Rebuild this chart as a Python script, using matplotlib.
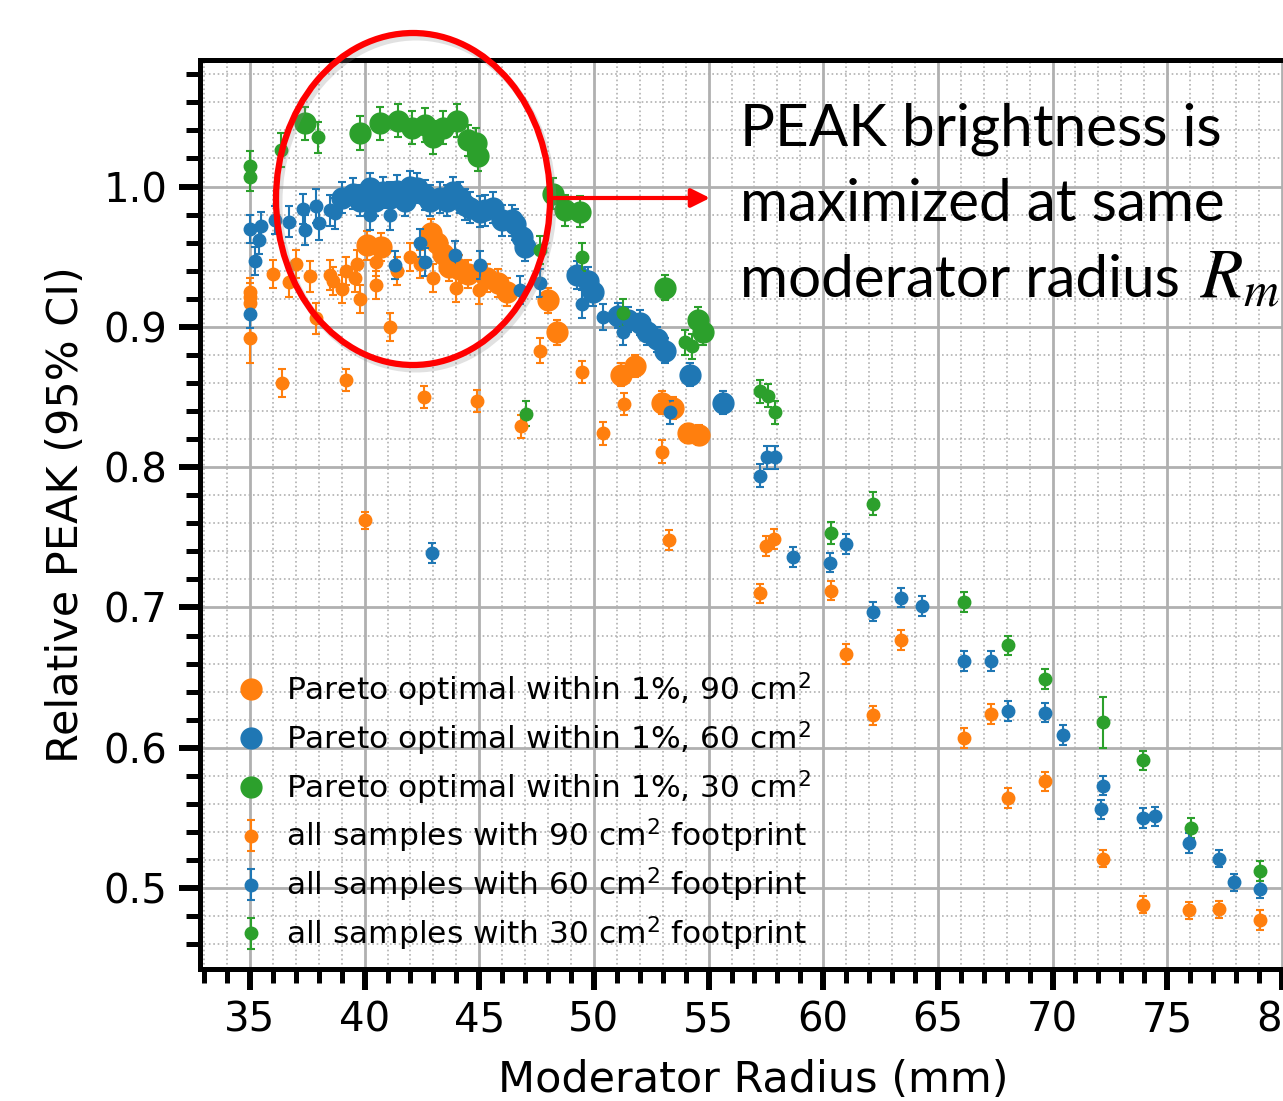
import numpy as np
import matplotlib.pyplot as plt
from matplotlib.patches import Ellipse
from matplotlib.ticker import MultipleLocator

# all samples, 90 cm^2 footprint
x90 = [35.0, 35.0, 35.0, 35.0, 36.0, 36.4, 36.7, 37.0, 37.6, 37.9, 38.5, 38.6, 39.0, 39.2,
       39.2, 39.6, 39.65, 39.8, 40.0, 40.1, 40.5, 40.5, 40.7, 41.1, 41.4, 42.0, 42.4, 42.6,
       42.9, 43.0, 43.15, 43.4, 43.7, 44.0, 44.1, 44.5, 44.9, 45.0, 45.35, 45.8, 46.2, 46.8,
       47.65, 48.0, 48.4, 49.5, 50.4, 51.2, 51.3, 51.8, 52.97, 52.97, 53.27, 53.45, 54.1,
       54.6, 57.24, 57.5, 57.86, 60.34, 61.0, 62.17, 63.4, 66.14, 67.3, 68.06, 69.67, 72.2,
       73.94, 75.95, 77.26, 79.05]
y90 = [0.925, 0.921, 0.917, 0.892, 0.938, 0.860, 0.932, 0.945, 0.936, 0.906, 0.937, 0.933,
       0.927, 0.940, 0.862, 0.935, 0.945, 0.920, 0.762, 0.958, 0.930, 0.946, 0.957, 0.900,
       0.940, 0.950, 0.945, 0.850, 0.967, 0.935, 0.960, 0.952, 0.943, 0.928, 0.941, 0.938,
       0.847, 0.926, 0.935, 0.931, 0.925, 0.829, 0.883, 0.919, 0.896, 0.868, 0.824, 0.866,
       0.845, 0.872, 0.846, 0.811, 0.748, 0.842, 0.824, 0.823, 0.710, 0.744, 0.749, 0.712,
       0.667, 0.623, 0.677, 0.607, 0.624, 0.564, 0.576, 0.521, 0.488, 0.484, 0.485, 0.477]
e90 = [0.010, 0.010, 0.010, 0.018, 0.010, 0.010, 0.011, 0.010, 0.011, 0.011, 0.011, 0.010,
       0.010, 0.010, 0.008, 0.010, 0.010, 0.010, 0.006, 0.010, 0.010, 0.010, 0.010, 0.010,
       0.010, 0.010, 0.010, 0.008, 0.010, 0.010, 0.010, 0.010, 0.010, 0.010, 0.010, 0.010,
       0.008, 0.010, 0.010, 0.010, 0.010, 0.008, 0.009, 0.009, 0.009, 0.008, 0.008, 0.008,
       0.008, 0.008, 0.008, 0.008, 0.007, 0.008, 0.007, 0.007, 0.007, 0.007, 0.007, 0.007,
       0.007, 0.007, 0.007, 0.007, 0.007, 0.007, 0.007, 0.006, 0.006, 0.006, 0.006, 0.007]

# all samples, 60 cm^2 footprint
x60 = [35.0, 35.0, 35.2, 35.4, 35.5, 36.1, 36.7, 37.3, 37.4, 37.9, 38.0, 38.5, 38.7, 39.01,
       39.49, 39.8, 40.23, 40.23, 40.45, 40.8, 41.1, 41.1, 41.32, 41.41, 41.76, 41.98, 42.28,
       42.4, 42.63, 42.63, 42.85, 42.94, 43.29, 43.6, 43.85, 43.94, 44.16, 44.38, 44.59, 45.03,
       45.03, 45.25, 45.6, 45.99, 46.43, 46.56, 46.78, 46.86, 46.99, 47.65, 49.26, 49.48, 49.74,
       49.96, 50.4, 51.05, 51.27, 51.48, 52.0, 52.31, 52.75, 53.1, 53.3, 54.19, 55.63, 57.24,
       57.55, 57.9, 58.7, 60.3, 61.0, 62.17, 63.4, 64.3, 66.14, 67.3, 68.06, 69.67, 70.45,
       72.2, 72.1, 73.94, 74.47, 75.95, 77.26, 77.91, 79.05]
y60 = [0.970, 0.909, 0.947, 0.962, 0.972, 0.976, 0.975, 0.984, 0.969, 0.986, 0.974, 0.983,
       0.981, 0.992, 0.995, 0.990, 0.999, 0.980, 0.990, 0.996, 0.992, 0.980, 0.944, 0.997,
       0.990, 1.000, 0.999, 0.960, 0.994, 0.946, 0.990, 0.739, 0.992, 0.990, 0.996, 0.951,
       0.992, 0.987, 0.985, 0.982, 0.944, 0.983, 0.985, 0.976, 0.976, 0.973, 0.926, 0.964,
       0.957, 0.931, 0.937, 0.916, 0.933, 0.925, 0.907, 0.908, 0.896, 0.905, 0.903, 0.896,
       0.891, 0.883, 0.839, 0.866, 0.846, 0.794, 0.807, 0.807, 0.736, 0.732, 0.745, 0.697,
       0.707, 0.701, 0.662, 0.662, 0.626, 0.625, 0.609, 0.573, 0.556, 0.550, 0.551, 0.532,
       0.521, 0.504, 0.499]
e60 = [0.010, 0.010, 0.010, 0.010, 0.010, 0.010, 0.011, 0.011, 0.011, 0.012, 0.012, 0.011,
       0.011, 0.011, 0.011, 0.011, 0.011, 0.011, 0.011, 0.011, 0.011, 0.011, 0.010, 0.011,
       0.011, 0.011, 0.011, 0.010, 0.011, 0.010, 0.011, 0.007, 0.011, 0.011, 0.011, 0.010,
       0.011, 0.011, 0.011, 0.011, 0.010, 0.011, 0.011, 0.011, 0.011, 0.011, 0.010, 0.010,
       0.010, 0.010, 0.010, 0.010, 0.010, 0.010, 0.009, 0.009, 0.009, 0.009, 0.009, 0.009,
       0.009, 0.009, 0.008, 0.008, 0.008, 0.008, 0.008, 0.008, 0.007, 0.007, 0.007, 0.007,
       0.007, 0.007, 0.007, 0.007, 0.007, 0.007, 0.007, 0.007, 0.007, 0.007, 0.007, 0.007,
       0.006, 0.006, 0.006]

# all samples, 30 cm^2 footprint
x30 = [35.0, 35.0, 36.35, 37.4, 37.97, 39.8, 40.67, 41.45, 42.07, 42.63, 42.98, 43.42, 44.03,
       44.5, 44.86, 44.95, 47.04, 47.65, 48.2, 48.75, 49.4, 49.5, 51.27, 53.1, 53.97, 54.28,
       54.54, 54.76, 57.24, 57.6, 57.9, 60.34, 62.17, 66.14, 68.06, 69.67, 72.2, 73.94, 76.04,
       79.05]
y30 = [1.015, 1.007, 1.026, 1.045, 1.035, 1.038, 1.045, 1.047, 1.042, 1.044, 1.035, 1.042,
       1.047, 1.033, 1.031, 1.022, 0.838, 0.955, 0.995, 0.983, 0.982, 0.950, 0.910, 0.928,
       0.889, 0.886, 0.905, 0.896, 0.854, 0.851, 0.839, 0.753, 0.774, 0.704, 0.673, 0.649,
       0.618, 0.591, 0.543, 0.512]
e30 = [0.010, 0.010, 0.012, 0.012, 0.011, 0.012, 0.012, 0.012, 0.012, 0.012, 0.012, 0.012,
       0.012, 0.011, 0.011, 0.011, 0.009, 0.010, 0.011, 0.011, 0.011, 0.010, 0.010, 0.009,
       0.009, 0.009, 0.009, 0.009, 0.008, 0.008, 0.008, 0.008, 0.008, 0.007, 0.007, 0.007,
       0.018, 0.007, 0.007, 0.007]

# Pareto optimal within 1%
px90 = [40.1, 40.7, 42.9, 43.15, 43.4, 43.7, 44.1, 44.5, 45.35, 45.8, 46.2, 48.0, 48.4,
        51.2, 51.8, 52.97, 53.45, 54.1, 54.6]
py90 = [0.958, 0.957, 0.967, 0.960, 0.952, 0.943, 0.941, 0.938, 0.935, 0.931, 0.925, 0.919,
        0.896, 0.866, 0.872, 0.846, 0.842, 0.824, 0.823]
px60 = [39.01, 39.49, 39.8, 40.23, 40.45, 40.8, 41.1, 41.41, 41.76, 41.98, 42.28, 42.63,
        42.85, 43.29, 43.6, 43.85, 44.16, 44.38, 44.59, 45.03, 45.25, 45.6, 45.99, 46.43,
        46.56, 46.86, 46.99, 49.26, 49.74, 49.96, 51.05, 51.48, 52.0, 52.31, 52.75, 53.1,
        54.19, 55.63]
py60 = [0.992, 0.995, 0.990, 0.999, 0.990, 0.996, 0.992, 0.997, 0.990, 1.000, 0.999, 0.994,
        0.990, 0.992, 0.990, 0.996, 0.992, 0.987, 0.985, 0.982, 0.983, 0.985, 0.976, 0.976,
        0.973, 0.964, 0.957, 0.937, 0.933, 0.925, 0.908, 0.905, 0.903, 0.896, 0.891, 0.883,
        0.866, 0.846]
px30 = [37.4, 39.8, 40.67, 41.45, 42.07, 42.63, 42.98, 43.42, 44.03, 44.5, 44.86, 44.95,
        48.2, 48.75, 49.4, 53.1, 54.54, 54.76]
py30 = [1.045, 1.038, 1.045, 1.047, 1.042, 1.044, 1.035, 1.042, 1.047, 1.033, 1.031, 1.022,
        0.995, 0.983, 0.982, 0.928, 0.905, 0.896]

W, H = 1283, 1101
fig = plt.figure(figsize=(W / 100, H / 100), dpi=100)
# axes runs past the right edge, like the cropped slide
ax = fig.add_axes([199.5 / W, (H - 969) / H, (1308 - 199.5) / W, (969 - 60) / H])

groups = [(px90, py90, x90, y90, e90, '#ff7f0e', '90'),
          (px60, py60, x60, y60, e60, '#1f77b4', '60'),
          (px30, py30, x30, y30, e30, '#2ca02c', '30')]
for px, py, xs, ys, es, c, a in groups:
    ax.plot(px, py, 'o', ms=15, color=c, mec=c,
            label='Pareto optimal within 1%, ' + a + ' cm$^2$')
    ax.errorbar(xs, ys, yerr=es, fmt='o', ms=9, color=c, capsize=3,
                elinewidth=1.5, capthick=1.5,
                label='all samples with ' + a + ' cm$^2$ footprint')

ax.set_xlim(32.80, 81.14)
ax.set_ylim(0.4423, 1.0902)
ax.xaxis.set_major_locator(MultipleLocator(5))
ax.xaxis.set_minor_locator(MultipleLocator(1))
ax.yaxis.set_major_locator(MultipleLocator(0.1))
ax.yaxis.set_minor_locator(MultipleLocator(0.02))
ax.yaxis.set_major_formatter(plt.FormatStrFormatter('%.1f'))
ax.grid(which='major', color='#b0b0b0', lw=2, ls='-')
ax.grid(which='minor', color='#b0b0b0', lw=1.2, ls=':')
ax.set_axisbelow(True)
for s in ['left', 'bottom', 'top']:
    ax.spines[s].set_linewidth(3.6)
ax.spines['right'].set_visible(False)
ax.tick_params(which='major', direction='out', length=15, width=4.3, labelsize=29, pad=8)
ax.tick_params(which='minor', direction='out', length=10, width=3.6)
ax.tick_params(top=False, right=False, which='both')

ax.set_xlabel('Moderator Radius (mm)', fontsize=31, labelpad=13)
ax.set_ylabel('Relative PEAK (95% CI)', fontsize=31, labelpad=12)

ax.legend(loc='lower left', bbox_to_anchor=(235.5 / W, (H - 953) / H),
          bbox_transform=fig.transFigure, frameon=False, fontsize=22.5,
          borderpad=0, borderaxespad=0, handlelength=1.0, handletextpad=0.6,
          labelspacing=0.33)

# red ellipse with a soft shadow, and arrow to the note
fig.add_artist(Ellipse(((413 + 3) / W, 1 - (199 + 4) / H), 274 / W, 332 / H,
                       fill=False, ec='#888888', lw=5, alpha=0.25,
                       transform=fig.transFigure))
fig.add_artist(Ellipse((413 / W, 1 - 199 / H), 274 / W, 332 / H,
                       fill=False, ec='#ff0000', lw=4.5,
                       transform=fig.transFigure))
fig.add_artist(plt.Annotation('', xy=(710 / W, 1 - 198 / H), xytext=(551 / W, 1 - 198 / H),
                              xycoords='figure fraction', textcoords='figure fraction',
                              arrowprops=dict(arrowstyle='-|>', color='#ff0000', lw=3,
                                              mutation_scale=28, shrinkA=0, shrinkB=0)))

note = dict(fontfamily='Lato', fontsize=42, va='baseline', ha='left')
fig.text(740 / W, 1 - 145 / H, 'PEAK brightness is', **note)
fig.text(740 / W, 1 - 221 / H, 'maximized at same', **note)
fig.text(740 / W, 1 - 297 / H, 'moderator radius', **note)
fig.text(1200 / W, 1 - 297 / H, '$R_m$', math_fontfamily='stix', fontsize=50,
         va='baseline', ha='left')

fig.savefig('out.png', dpi=100)
